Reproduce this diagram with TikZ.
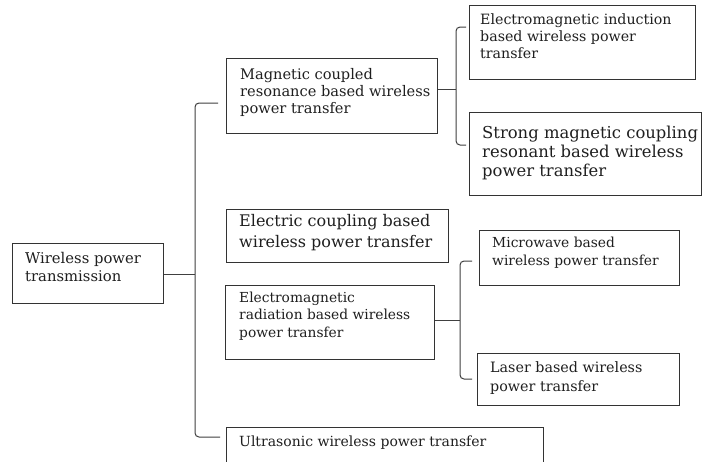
\documentclass[tikz,border=0pt]{standalone}
\usepackage{fontspec}
\setmainfont{DejaVu Serif}
\begin{document}
\begin{tikzpicture}[x=1pt,y=-1pt,
  box/.style={draw=black!80, line width=1pt, inner sep=0pt, fill=white},
  lbl/.style={inner sep=0pt, anchor=north west, align=left, text=black!88,
    font=\fontsize{13.8}{17.5}\selectfont},
  biglbl/.style={lbl, font=\fontsize{16.4}{19}\selectfont},
  conn/.style={draw=black!75, line width=1pt, rounded corners=4pt},
  wire/.style={draw=black!75, line width=1pt}]
\useasboundingbox (0,0) rectangle (703,461);
\fill[white] (0,0) rectangle (703,461);
\clip (0,0) rectangle (703,461);
% boxes
\node[box, minimum width=151pt, minimum height=60pt] (b1) at (87.5,273) {};
\node[box, minimum width=211pt, minimum height=75pt] (b2) at (331.5,95.5) {};
\node[box, minimum width=226pt, minimum height=74pt] (b3) at (582,42) {};
\node[box, minimum width=232pt, minimum height=83pt] (b4) at (585,153.5) {};
\node[box, minimum width=222pt, minimum height=53pt] (b5) at (337,235.5) {};
\node[box, minimum width=209pt, minimum height=74pt] (b6) at (329.5,322) {};
\node[box, minimum width=200pt, minimum height=55pt] (b7) at (579,257.5) {};
\node[box, minimum width=202pt, minimum height=52pt] (b8) at (578,379) {};
\node[box, minimum width=317pt, minimum height=48pt] (b9) at (384.5,451) {};
% labels
\node[lbl, font=\fontsize{14.8}{18}\selectfont] (t1) at (25,252.5) {Wireless power\\transmission};
\node[lbl, font=\fontsize{14.6}{17}\selectfont] (t2) at (240,68) {Magnetic coupled\\resonance based wireless\\power transfer};
\node[lbl, font=\fontsize{14.2}{17}\selectfont] (t3) at (480,13.5) {Electromagnetic induction\\based wireless power\\transfer};
\node[biglbl] (t4) at (482,125.5) {Strong magnetic coupling\\resonant based wireless\\power transfer};
\node[biglbl, font=\fontsize{16}{21}\selectfont] (t5) at (239,214.5) {Electric coupling based\\wireless power transfer};
\node[lbl] (t6) at (239,291.5) {Electromagnetic\\radiation based wireless\\power transfer};
\node[lbl, font=\fontsize{13.8}{18}\selectfont] (t7) at (492,236.5) {Microwave based\\wireless power transfer};
\node[lbl, font=\fontsize{14.3}{19}\selectfont] (t8) at (490,361.5) {Laser based wireless\\power transfer};
\node[lbl, font=\fontsize{14}{17.5}\selectfont] (t9) at (239,435.5) {Ultrasonic wireless power transfer};
% junction coordinates
\coordinate (j1) at (195,274);
\coordinate (a1) at (218,103);
\coordinate (z1) at (220,437);
\coordinate (j2) at (456,89);
\coordinate (a2) at (466,27);
\coordinate (z2) at (466,145);
\coordinate (j3) at (460,320);
\coordinate (a3) at (472,261);
\coordinate (z3) at (472,379);
% connectors
\draw[wire] (b1.east |- j1) -- (j1);
\draw[conn] (a1) -- (a1 -| j1) -- (z1 -| j1) -- (z1);
\draw[wire] (b2.east |- j2) -- (j2);
\draw[conn] (a2) -- (a2 -| j2) -- (z2 -| j2) -- (z2);
\draw[wire] (b6.east |- j3) -- (j3);
\draw[conn] (a3) -- (a3 -| j3) -- (z3 -| j3) -- (z3);
\end{tikzpicture}
\end{document}
